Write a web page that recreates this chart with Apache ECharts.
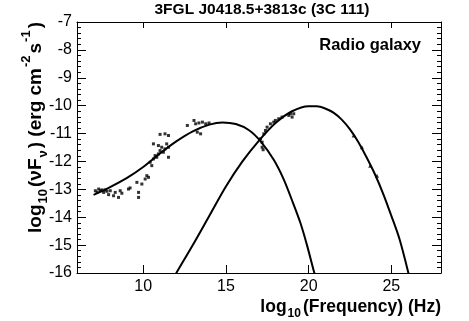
<!DOCTYPE html>
<html>
<head>
<meta charset="utf-8">
<script src="https://cdn.jsdelivr.net/npm/echarts@6/dist/echarts.min.js"></script>
<style>
html,body{margin:0;padding:0;background:#fff;}
#c{width:469px;height:321px;}
</style>
</head>
<body>
<div id="c"></div>
<script>
// ---- data ----
const titleText = '3FGL J0418.5+3813c (3C 111)';
const classText = 'Radio galaxy';
const xTicks = [10, 15, 20, 25];
const yRange = [-16, -7];
const xRange = [6, 28];

// synchrotron model curve [log nu, log nuFnu]
const syncCurve = [
  [7.0, -13.2], [8.0, -12.92], [9.0, -12.6], [10.0, -12.2], [11.0, -11.72],
  [12.0, -11.28], [13.0, -10.92], [14.0, -10.68], [14.8, -10.6], [15.6, -10.66],
  [16.4, -10.88], [17.1, -11.28], [17.9, -11.95], [18.5, -12.65], [19.0, -13.4],
  [19.5, -14.2], [19.9, -15.0], [20.3, -15.9], [20.4, -16.1]
];
// inverse Compton model curve
const icCurve = [
  [11.95, -16.05], [13.0, -15.0], [14.0, -13.95], [15.0, -12.9], [16.0, -12.0],
  [17.0, -11.25], [18.0, -10.62], [19.0, -10.2], [20.0, -10.02], [20.5, -10.02],
  [21.0, -10.1], [21.5, -10.25], [22.0, -10.5], [22.5, -10.85], [23.0, -11.3],
  [23.5, -11.85], [24.0, -12.45], [24.5, -13.15], [25.0, -13.95], [25.5, -14.8],
  [26.05, -16.05]
];
// radio / IR / optical data points
const lowData = [
  [7.11, -13.05], [7.21, -13.11], [7.31, -12.99], [7.41, -13.05], [7.51, -13.02],
  [7.61, -13.11], [7.71, -13.02], [7.81, -13.07], [7.91, -13.19], [8.01, -13.05],
  [8.21, -13.23], [8.31, -13.11], [8.51, -13.29], [8.61, -13.05], [8.71, -13.14],
  [9.11, -12.99], [9.21, -12.95], [9.62, -12.75], [9.72, -13.11], [9.72, -13.29],
  [9.92, -12.81], [10.12, -12.63], [10.22, -12.51], [10.32, -12.57], [10.42, -12.03],
  [10.52, -12.15], [10.62, -11.91], [10.62, -11.37], [10.72, -11.79], [10.82, -11.85],
  [10.92, -11.73], [10.92, -11.43], [11.02, -11.61], [11.02, -11.03], [11.12, -11.49],
  [11.22, -11.67], [11.32, -11.55], [11.32, -11.01], [11.42, -11.37], [11.53, -11.49],
  [11.53, -11.85], [11.53, -11.07],
  [12.67, -10.71], [13.07, -10.53], [13.17, -10.65], [13.37, -10.62], [13.58, -10.59],
  [13.78, -10.65], [13.98, -10.62], [13.27, -10.95], [13.47, -11.01]
];
// X-ray data points
const xrayData = [
  [17.09, -11.19], [17.19, -11.31], [17.19, -11.49], [17.25, -11.58], [17.29, -11.01],
  [17.39, -10.89], [17.49, -10.77], [17.69, -10.65], [17.89, -10.59], [17.99, -10.53],
  [18.19, -10.47], [18.39, -10.41], [18.8, -10.35], [18.9, -10.29], [19.0, -10.41],
  [19.1, -10.29]
];
// gamma-ray data points
const gammaData = [
  [22.72, -11.07], [23.22, -11.49], [23.72, -12.15], [24.13, -12.51]
];

const FONT = '"Liberation Sans", Arial, Helvetica, sans-serif';

const chart = echarts.init(document.getElementById('c'), null, {renderer: 'canvas'});

const baseAxisLine = {show: true, lineStyle: {color: '#000', width: 1}};

function richSet(main, sub) {
  const common = {fontWeight: 'bold', fontFamily: FONT, fill: '#000', color: '#000', verticalAlign: 'top'};
  return {
    m: Object.assign({}, common, {fontSize: main, lineHeight: main + 1, padding: [6, 0, 0, 0]}),
    s: Object.assign({}, common, {fontSize: sub, lineHeight: sub + 1, padding: [main - 2, 2, 0, 1]}),
    p: Object.assign({}, common, {fontSize: sub, lineHeight: sub + 1, padding: [0, 2, 0, 1]})
  };
}

const option = {
  backgroundColor: '#fff',
  animation: false,
  grid: {left: 77, right: 28, top: 22, bottom: 48, containLabel: false},
  xAxis: [
    {
      type: 'value', min: xRange[0], max: xRange[1], position: 'bottom',
      axisLine: baseAxisLine,
      axisTick: {show: true, inside: true, length: 8, customValues: xTicks, lineStyle: {color: '#000'}},
      axisLabel: {show: true, customValues: xTicks, color: '#000', fontSize: 16, fontFamily: FONT, margin: 6},
      splitLine: {show: false}
    },
    {
      type: 'value', min: xRange[0], max: xRange[1], position: 'top',
      axisLine: baseAxisLine,
      axisTick: {show: true, inside: true, length: 6, customValues: xTicks, lineStyle: {color: '#000'}},
      axisLabel: {show: false},
      splitLine: {show: false}
    }
  ],
  yAxis: [
    {
      type: 'value', min: yRange[0], max: yRange[1], interval: 1, position: 'left',
      axisLine: baseAxisLine,
      axisTick: {show: true, inside: true, length: 9, lineStyle: {color: '#000'}},
      minorTick: {show: true, splitNumber: 5, length: 4, lineStyle: {color: '#000'}},
      axisLabel: {show: true, color: '#000', fontSize: 16, fontFamily: FONT, margin: 5},
      splitLine: {show: false}
    },
    {
      type: 'value', min: yRange[0], max: yRange[1], interval: 1, position: 'right',
      axisLine: baseAxisLine,
      axisTick: {show: true, inside: true, length: 9, lineStyle: {color: '#000'}},
      minorTick: {show: true, splitNumber: 5, length: 4, lineStyle: {color: '#000'}},
      axisLabel: {show: false},
      splitLine: {show: false}
    }
  ],
  series: [
    {
      type: 'line', data: syncCurve, smooth: 0.3, symbol: 'none', clip: true,
      lineStyle: {color: '#000', width: 2}
    },
    {
      type: 'line', data: icCurve, smooth: 0.3, symbol: 'none', clip: true,
      lineStyle: {color: '#000', width: 2}
    },
    {
      type: 'scatter', data: lowData, symbol: 'rect', symbolSize: 3,
      itemStyle: {color: '#000'}
    },
    {
      type: 'scatter', data: xrayData, symbol: 'rect', symbolSize: 3,
      itemStyle: {color: '#000'}
    },
    {
      type: 'scatter', data: gammaData, symbol: 'triangle', symbolSize: 4,
      itemStyle: {color: '#000'}
    }
  ],
  graphic: [
    {
      type: 'text', x: 262, y: 10,
      style: {text: titleText, fill: '#000', font: 'bold 15.5px ' + FONT, align: 'center', verticalAlign: 'middle'}
    },
    {
      type: 'text', x: 421, y: 45,
      style: {text: classText, fill: '#000', font: 'bold 16.5px ' + FONT, align: 'right', verticalAlign: 'middle'}
    },
    {
      type: 'text', x: 441, y: 301,
      style: {
        text: '{m|log}{s|10}{m|(Frequency) (Hz)}',
        align: 'right', verticalAlign: 'middle',
        rich: richSet(17.5, 12)
      }
    },
    {
      type: 'text', x: 30, y: 22, rotation: Math.PI / 2,
      style: {
        text: '{m|log}{s|10}{m|(νF}{s|ν}{m|) (erg cm}{p|-2}{m|s}{p|-1}{m|)}',
        align: 'right', verticalAlign: 'middle',
        rich: richSet(19, 13)
      }
    }
  ]
};
chart.setOption(option);
</script>
</body>
</html>
